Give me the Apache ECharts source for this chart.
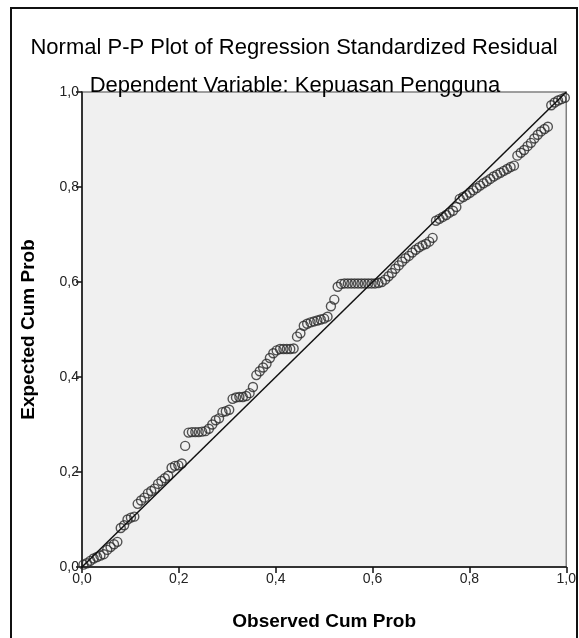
<!DOCTYPE html>
<html>
<head>
<meta charset="utf-8">
<script src="https://cdn.jsdelivr.net/npm/echarts@6/dist/echarts.min.js"></script>
<style>
  html, body {margin: 0; padding: 0; background: #fff;}
  #chart {width: 579px; height: 638px;}
</style>
</head>
<body>
<div id="chart"></div>
<script>
// observed cumulative probability (x) and expected cumulative probability (y)
const observed = [
  0.003, 0.010, 0.017, 0.024, 0.031, 0.038, 0.045, 0.052, 0.059, 0.066, 0.073,
  0.080, 0.087, 0.094, 0.101, 0.108,
  0.115, 0.122, 0.129, 0.136, 0.143, 0.150, 0.157, 0.164, 0.171, 0.178, 0.185, 0.192, 0.199, 0.206,
  0.213, 0.220, 0.227, 0.234, 0.241, 0.248, 0.255, 0.262, 0.269, 0.276, 0.283, 0.290, 0.297, 0.304,
  0.311, 0.318, 0.325, 0.332, 0.339, 0.346, 0.353, 0.360, 0.367, 0.374, 0.381, 0.388, 0.395, 0.402,
  0.409, 0.416, 0.423, 0.430, 0.437, 0.444, 0.451, 0.458, 0.465, 0.472, 0.479, 0.486, 0.493, 0.500,
  0.507, 0.514, 0.521, 0.528, 0.535, 0.542, 0.549, 0.556, 0.563, 0.570, 0.577, 0.584, 0.591, 0.598,
  0.605, 0.612, 0.619, 0.626, 0.633, 0.640, 0.647, 0.654, 0.661, 0.668, 0.675, 0.682, 0.689, 0.696,
  0.703, 0.710, 0.717, 0.724, 0.731, 0.738, 0.745, 0.752, 0.759, 0.766, 0.773, 0.780, 0.787, 0.794,
  0.801, 0.808, 0.815, 0.822, 0.829, 0.836, 0.843, 0.850, 0.857, 0.864, 0.871, 0.878, 0.885, 0.892,
  0.899, 0.906, 0.913, 0.920, 0.927, 0.934, 0.941, 0.948, 0.955, 0.962, 0.969, 0.976, 0.983, 0.990, 0.997
];
const expected = [
  0.005, 0.008, 0.013, 0.018, 0.021, 0.024, 0.027, 0.036, 0.042, 0.048, 0.053,
  0.082, 0.088, 0.100, 0.104, 0.106,
  0.133, 0.140, 0.146, 0.155, 0.160, 0.165, 0.175, 0.181, 0.187, 0.192, 0.209, 0.213, 0.214, 0.218,
  0.255, 0.283, 0.284, 0.284, 0.284, 0.285, 0.286, 0.291, 0.300, 0.309, 0.313, 0.326, 0.328, 0.331,
  0.354, 0.357, 0.358, 0.358, 0.360, 0.366, 0.379, 0.404, 0.412, 0.420, 0.428, 0.440, 0.450, 0.456,
  0.459, 0.459, 0.459, 0.459, 0.460, 0.485, 0.492, 0.508, 0.512, 0.515, 0.517, 0.519, 0.521, 0.523,
  0.527, 0.549, 0.563, 0.590, 0.596, 0.597, 0.597, 0.597, 0.597, 0.597, 0.597, 0.597, 0.597, 0.597,
  0.597, 0.598, 0.600, 0.605, 0.612, 0.619, 0.628, 0.635, 0.643, 0.650, 0.655, 0.662, 0.668, 0.673,
  0.677, 0.680, 0.685, 0.693, 0.729, 0.733, 0.737, 0.741, 0.746, 0.750, 0.758, 0.775, 0.779, 0.783,
  0.788, 0.793, 0.798, 0.803, 0.808, 0.812, 0.817, 0.822, 0.826, 0.830, 0.834, 0.838, 0.842, 0.845,
  0.866, 0.872, 0.878, 0.886, 0.893, 0.902, 0.910, 0.917, 0.922, 0.927, 0.972, 0.978, 0.982, 0.985, 0.988
];
const refLine = [[0, 0], [1, 1]];

const fmt = v => v.toFixed(1).replace('.', ',');
const font = 'Liberation Sans, Arial, sans-serif';

const myChart = echarts.init(document.getElementById('chart'), null, {renderer: 'canvas'});
const option = {
  backgroundColor: '#fff',
  animation: false,
  title: [
    {text: 'Normal P-P Plot of Regression Standardized Residual', left: 289, top: 32, textAlign: 'center',
     textStyle: {fontFamily: font, fontSize: 22, fontWeight: 'normal', color: '#000'}},
    {text: 'Dependent Variable: Kepuasan Pengguna', left: 290, top: 70, textAlign: 'center',
     textStyle: {fontFamily: font, fontSize: 22, fontWeight: 'normal', color: '#000'}}
  ],
  graphic: [{
    type: 'rect', shape: {x: 11, y: 8, width: 566, height: 640},
    style: {fill: 'none', stroke: '#111', lineWidth: 2}, silent: true
  }],
  grid: {left: 82, right: 11, top: 92, bottom: 71, show: true,
         backgroundColor: '#f0f0f0', borderColor: '#808080', borderWidth: 1.5},
  xAxis: {
    type: 'value', min: 0, max: 1, interval: 0.2,
    name: 'Observed Cum Prob', nameLocation: 'middle', nameGap: 45,
    nameTextStyle: {fontFamily: font, fontSize: 19, fontWeight: 'bold', color: '#000'},
    axisLine: {lineStyle: {color: '#111', width: 1.5}},
    axisTick: {show: true, length: 6, lineStyle: {color: '#111', width: 1.5}},
    axisLabel: {formatter: fmt, fontFamily: font, fontSize: 14, color: '#222', margin: 5},
    splitLine: {show: false}
  },
  yAxis: {
    type: 'value', min: 0, max: 1, interval: 0.2,
    name: 'Expected Cum Prob', nameLocation: 'middle', nameGap: 44,
    nameTextStyle: {fontFamily: font, fontSize: 19, fontWeight: 'bold', color: '#000'},
    axisLine: {show: true, lineStyle: {color: '#111', width: 1.5}},
    axisTick: {show: true, length: 6, lineStyle: {color: '#111', width: 1.5}},
    axisLabel: {formatter: fmt, fontFamily: font, fontSize: 14, color: '#222', margin: 3},
    splitLine: {show: false}
  },
  series: [
    {
      type: 'scatter',
      data: observed.map((x, i) => [x, expected[i]]),
      symbol: 'circle', symbolSize: 9,
      itemStyle: {color: 'rgba(0,0,0,0)', borderColor: '#2a2a2a', borderWidth: 1.4},
      z: 2
    },
    {
      type: 'line',
      data: refLine,
      symbol: 'none',
      lineStyle: {color: '#111', width: 1.5},
      z: 3
    }
  ]
};
myChart.setOption(option);
</script>
</body>
</html>
